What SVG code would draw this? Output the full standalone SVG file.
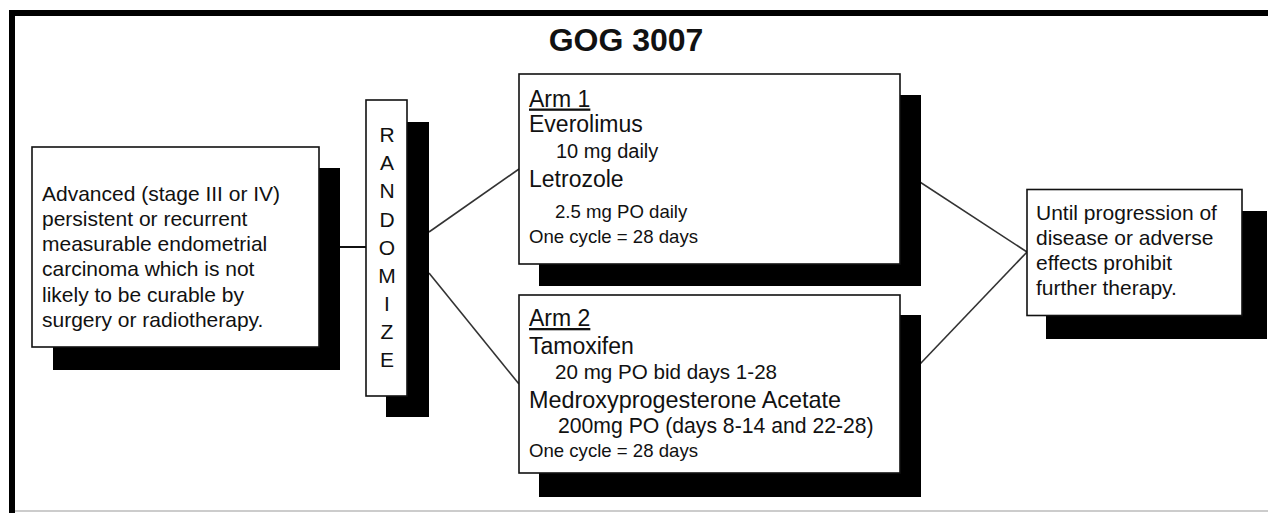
<svg xmlns="http://www.w3.org/2000/svg" width="1268" height="513" viewBox="0 0 1268 513">
<style>
text{font-family:"Liberation Sans",Arial,sans-serif;fill:#111}
.box{fill:#fff;stroke:#111;stroke-width:1.6}
.sh{fill:#000}
.c{stroke:#333;stroke-width:1.6;fill:none}
.t{font-size:21px}
.d{font-size:23px}
.s{font-size:18.6px}
.s2{font-size:20.6px}
.r{font-size:21px;text-anchor:middle}
</style>
<rect x="0" y="0" width="1268" height="513" fill="#fff"/>
<g id="frame">
<line x1="12" y1="13" x2="1268" y2="13" stroke="#000" stroke-width="6"/>
<line x1="12" y1="10" x2="12" y2="513" stroke="#000" stroke-width="6"/>
<line x1="15" y1="511" x2="1268" y2="511" stroke="#bbb" stroke-width="1.5"/>
</g>
<g id="title"><text x="626" y="51" font-size="32" font-weight="bold" text-anchor="middle">GOG 3007</text></g>
<g id="connectors">
<line class="c" x1="340" y1="247" x2="366" y2="247" style="stroke:#111;stroke-width:2"/>
<line class="c" x1="429" y1="232" x2="519" y2="169"/>
<line class="c" x1="429" y1="273" x2="519" y2="384"/>
<line class="c" x1="900" y1="169" x2="1027" y2="252"/>
<line class="c" x1="900" y1="385" x2="1027" y2="252"/>
</g>
<g id="eligibility">
<rect class="sh" x="53" y="168" width="287" height="202"/>
<rect class="box" x="32" y="147" width="287" height="200"/>
<text class="t" x="42" y="200.7">Advanced (stage III or IV)</text>
<text class="t" x="42" y="225.9">persistent or recurrent</text>
<text class="t" x="42" y="251.1">measurable endometrial</text>
<text class="t" x="42" y="276.3">carcinoma which is not</text>
<text class="t" x="42" y="301.5">likely to be curable by</text>
<text class="t" x="42" y="326.7">surgery or radiotherapy.</text>
</g>
<g id="randomize">
<rect class="sh" x="386" y="122" width="43" height="295"/>
<rect class="box" x="366" y="100" width="41" height="296"/>
<text class="r" x="387" y="142">R</text>
<text class="r" x="387" y="170">A</text>
<text class="r" x="387" y="198.3">N</text>
<text class="r" x="387" y="226.7">D</text>
<text class="r" x="387" y="255">O</text>
<text class="r" x="387" y="283.3">M</text>
<text class="r" x="387" y="310.5">I</text>
<text class="r" x="387" y="338.5">Z</text>
<text class="r" x="387" y="366.7">E</text>
</g>
<g id="arm1">
<rect class="sh" x="539" y="95" width="382" height="191"/>
<rect class="box" x="519" y="74" width="381" height="190"/>
<text class="d" x="529" y="106.5" text-decoration="underline">Arm 1</text>
<text class="d" x="529" y="131.7">Everolimus</text>
<text x="556" y="158.3" font-size="20">10 mg daily</text>
<text class="d" x="529" y="186.7">Letrozole</text>
<text class="s" x="555" y="218.3">2.5 mg PO daily</text>
<text class="s" x="529" y="243.3">One cycle = 28 days</text>
</g>
<g id="arm2">
<rect class="sh" x="539" y="315" width="382" height="182"/>
<rect class="box" x="519" y="295" width="381" height="178"/>
<text class="d" x="529" y="326" text-decoration="underline">Arm 2</text>
<text class="d" x="529" y="354">Tamoxifen</text>
<text class="s2" x="555" y="379.3">20 mg PO bid days 1-28</text>
<text x="529" y="408.3" font-size="23.4">Medroxyprogesterone Acetate</text>
<text x="558" y="433.3" font-size="21.2">200mg PO (days 8-14 and 22-28)</text>
<text class="s" x="529" y="456.7">One cycle = 28 days</text>
</g>
<g id="followup">
<rect class="sh" x="1046" y="211" width="221" height="128"/>
<rect class="box" x="1027" y="189.5" width="215" height="126"/>
<text class="t" x="1036" y="220">Until progression of</text>
<text class="t" x="1036" y="245">disease or adverse</text>
<text class="t" x="1036" y="270">effects prohibit</text>
<text class="t" x="1036" y="295">further therapy.</text>
</g>
</svg>
